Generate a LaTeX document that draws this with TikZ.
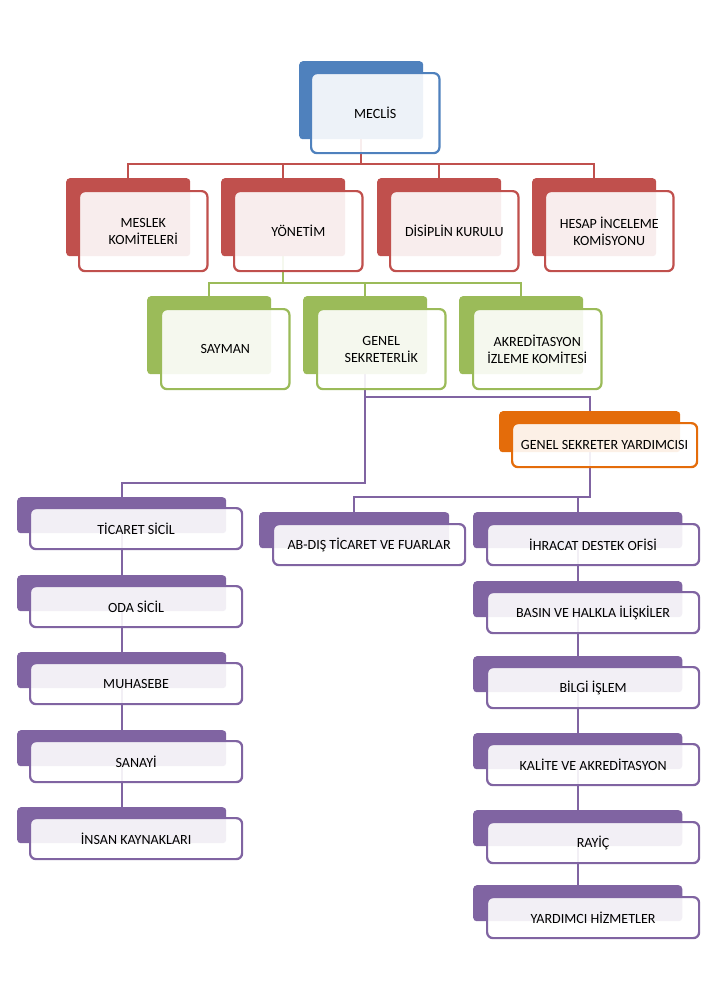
\documentclass[tikz,border=0pt]{standalone}
\usepackage{fontspec}
\setmainfont{Carlito}
\usetikzlibrary{shapes,backgrounds}

\definecolor{orgblue}{HTML}{4F81BD}
\definecolor{orgred}{HTML}{C0504D}
\definecolor{orggreen}{HTML}{9BBB59}
\definecolor{orgorange}{HTML}{E46C0A}
\definecolor{orgpurple}{HTML}{8064A2}

\begin{document}
\begin{tikzpicture}[x=0.03cm, y=-0.03cm,
	back/.style={rectangle, rounded corners=3pt, fill=#1, anchor=north west, minimum width=3.72cm, minimum height=2.34cm},
	front/.style={rectangle, rounded corners=5pt, draw=#1, line width=1.9pt, fill=white, fill opacity=0.9, text opacity=1, anchor=north west, minimum width=3.85cm, minimum height=2.4cm, align=center, font=\fontsize{12}{14.5}\selectfont},
	unitback/.style={minimum width=6.27cm, minimum height=1.08cm},
	unitfront/.style={minimum width=6.36cm, minimum height=1.23cm},
	conn/.style={draw=#1, line width=1.9pt}]
	\useasboundingbox (0,0) rectangle (707,1000);

	\node [back=orgblue] (meclisB) at (299,61) {};
	\node [front=orgblue] (meclis) at (310,72) {MECLİS};

	\node [back=orgred] (meslekB) at (66,178) {};
	\node [front=orgred] (meslek) at (78,190) {MESLEK\\KOMİTELERİ};
	\node [back=orgred] (yonetimB) at (221,178) {};
	\node [front=orgred] (yonetim) at (233,190) {YÖNETİM};
	\node [back=orgred] (disiplinB) at (377,178) {};
	\node [front=orgred] (disiplin) at (389,190) {DİSİPLİN KURULU};
	\node [back=orgred] (hesapB) at (532,178) {};
	\node [front=orgred] (hesap) at (544,190) {HESAP İNCELEME\\KOMİSYONU};

	\node [back=orggreen] (saymanB) at (147,296) {};
	\node [front=orggreen] (sayman) at (160,308) {SAYMAN};
	\node [back=orggreen] (genelB) at (303,296) {};
	\node [front=orggreen] (genel) at (316,308) {GENEL\\SEKRETERLİK};
	\node [back=orggreen] (akredB) at (459,296) {};
	\node [front=orggreen] (akred) at (472,308) {AKREDİTASYON\\İZLEME KOMİTESİ};

	\node [back=orgorange, minimum width=5.43cm, minimum height=1.23cm] (yardimciB) at (499,411) {};
	\node [front=orgorange, minimum width=5.55cm, minimum height=1.32cm] (yardimci) at (511,422) {GENEL SEKRETER YARDIMCISI};

	% sol sutun
	\node [back=orgpurple, unitback] (ticaretB) at (17,497) {};
	\node [front=orgpurple, unitfront] (ticaret) at (29,507) {TİCARET SİCİL};
	\node [back=orgpurple, unitback] (odaB) at (17,575) {};
	\node [front=orgpurple, unitfront] (oda) at (29,585) {ODA SİCİL};
	\node [back=orgpurple, unitback] (muhasebeB) at (17,652) {};
	\node [front=orgpurple, unitfront] (muhasebe) at (29,662) {MUHASEBE};
	\node [back=orgpurple, unitback] (sanayiB) at (17,730) {};
	\node [front=orgpurple, unitfront] (sanayi) at (29,740) {SANAYİ};
	\node [back=orgpurple, unitback] (insanB) at (17,807) {};
	\node [front=orgpurple, unitfront] (insan) at (29,817) {İNSAN KAYNAKLARI};

	\node [back=orgpurple, unitback, minimum width=5.7cm] (abB) at (259,512) {};
	\node [front=orgpurple, unitfront, minimum width=5.76cm] (ab) at (272,523) {AB-DIŞ TİCARET VE FUARLAR};

	% sag sutun
	\node [back=orgpurple, unitback] (ihracatB) at (473,512) {};
	\node [front=orgpurple, unitfront] (ihracat) at (486,523) {İHRACAT DESTEK OFİSİ};
	\node [back=orgpurple, unitback] (basinB) at (473,581) {};
	\node [front=orgpurple, unitfront] (basin) at (486,591) {BASIN VE HALKLA İLİŞKİLER};
	\node [back=orgpurple, unitback] (bilgiB) at (473,656) {};
	\node [front=orgpurple, unitfront] (bilgi) at (486,666) {BİLGİ İŞLEM};
	\node [back=orgpurple, unitback] (kaliteB) at (473,733) {};
	\node [front=orgpurple, unitfront] (kalite) at (486,743) {KALİTE VE AKREDİTASYON};
	\node [back=orgpurple, unitback] (rayicB) at (473,810) {};
	\node [front=orgpurple, unitfront] (rayic) at (486,821) {RAYİÇ};
	\node [back=orgpurple, unitback] (hizmetB) at (473,885) {};
	\node [front=orgpurple, unitfront] (hizmet) at (486,896) {YARDIMCI HİZMETLER};

	\coordinate (busA) at (0,164);
	\coordinate (busB) at (0,283);
	\coordinate (busC) at (0,397);
	\coordinate (busD) at (0,483);
	\coordinate (busE) at (0,497);

	\begin{scope}[on background layer]
		\foreach \c in {meslekB,yonetimB,disiplinB,hesapB}
			\draw [conn=orgred] (meclisB.center) -- (meclisB.center |- busA) -| (\c.center);
		\foreach \c in {saymanB,genelB,akredB}
			\draw [conn=orggreen] (yonetimB.center) -- (yonetimB.center |- busB) -| (\c.center);
		\draw [conn=orgpurple] (genelB.center) -- (genelB.center |- busC) -| (yardimciB.center);
		\draw [conn=orgpurple] (genelB.center) -- (genelB.center |- busD) -| (ticaretB.center);
		\foreach \c in {abB,ihracatB}
			\draw [conn=orgpurple] (yardimciB.center) -- (yardimciB.center |- busE) -| (\c.center);
		\draw [conn=orgpurple] (ticaretB.center) -- (odaB.center) -- (muhasebeB.center) -- (sanayiB.center) -- (insanB.center);
		\draw [conn=orgpurple] (ihracatB.center) -- (basinB.center) -- (bilgiB.center) -- (kaliteB.center) -- (rayicB.center) -- (hizmetB.center);
	\end{scope}
\end{tikzpicture}
\end{document}
